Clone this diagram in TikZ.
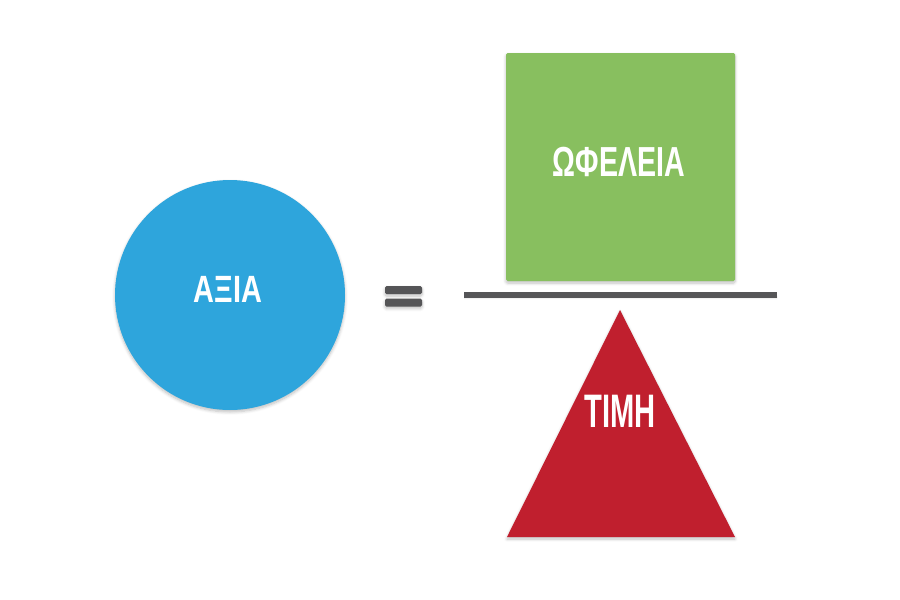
\documentclass[tikz,border=0pt]{standalone}
\usepackage{fontspec}
\setmainfont{Liberation Sans}
\newfontfamily\fa{Liberation Sans}[FakeStretch=0.76]
\newfontfamily\fb{Liberation Sans}[FakeStretch=0.68]
\newfontfamily\fc{Liberation Sans}[FakeStretch=0.62]
\usetikzlibrary{shadows.blur}
\definecolor{cblue}{HTML}{2EA5DC}
\definecolor{cgreen}{HTML}{88BF5F}
\definecolor{cred}{HTML}{C01F2E}
\definecolor{cgray}{HTML}{555557}
\tikzset{
  shad/.style={blur shadow={shadow xshift=0pt, shadow yshift=-2pt, shadow blur steps=6, shadow opacity=25, shadow blur radius=3pt}},
  lbl/.style={text=white, inner sep=0pt, anchor=center},
}
\begin{document}
\begin{tikzpicture}[x=1pt,y=-1pt]
\useasboundingbox (0,0) rectangle (900,600);
% circle
\node[circle, fill=cblue, minimum size=230pt, inner sep=0pt, shad] (axia) at (230,295) {};
\node[lbl, font=\fa\bfseries\fontsize{38}{38}\selectfont] (taxia) at (228,289) {ΑΞΙΑ};
% equals
\node[fill=cgray, rounded corners=1.5pt, minimum width=37pt, minimum height=8pt, inner sep=0pt, shad] (eq1) at (403.5,290) {};
\node[fill=cgray, rounded corners=1.5pt, minimum width=37pt, minimum height=8pt, inner sep=0pt, shad] (eq2) at (403.5,302.5) {};
% green square
\node[fill=cgreen, rounded corners=1.5pt, minimum width=229pt, minimum height=228pt, inner sep=0pt, shad] (ofel) at (620.5,167) {};
\node[lbl, font=\fb\bfseries\fontsize{42}{42}\selectfont] (tofel) at (619,162) {ΩΦΕΛΕΙΑ};
% fraction line
\coordinate (fl) at (464,295);
\coordinate (fr) at (777,295);
\draw[cgray, line width=6pt, shad] (fl) -- (fr);
% triangle
\coordinate (ta) at (620,310);
\coordinate (tl) at (507,537);
\coordinate (tr) at (735,537);
\fill[cred, shad] (ta) -- (tr) -- (tl) -- cycle;
\node[lbl, font=\fc\bfseries\fontsize{47}{47}\selectfont] (ttimh) at (620,411) {ΤΙΜΗ};
\end{tikzpicture}
\end{document}
